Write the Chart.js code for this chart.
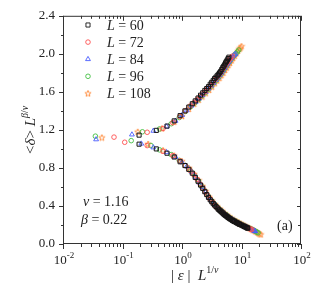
<!DOCTYPE html>
<html lang="en">
<head>
<meta charset="UTF-8">
<title>Scaling collapse</title>
<script src="https://cdn.jsdelivr.net/npm/chart.js"></script>
<style>
  body { margin: 0; background: #fff; }
  #wrap { width: 316px; height: 287px; position: relative; }
</style>
</head>
<body>
<div id="wrap"><canvas id="c"></canvas></div>
<script>
// system sizes and marker colours
const sizes = [60, 72, 84, 96, 108];
const colors = ['#151515', '#ff5050', '#4a5cff', '#44c044', '#ff8a3a'];

// [x, y] points: upper branch and lower branch per L
const upper60 = [[0.19,1.145],[0.37,1.195],[0.56,1.24],[0.74,1.295],[0.93,1.35],[1.12,1.40],[1.3,1.44],[1.49,1.475],[1.67,1.505],[1.86,1.535],[2.05,1.565],[2.23,1.59],[2.42,1.615],[2.6,1.635],[2.79,1.655],[2.98,1.68],[3.16,1.70],[3.35,1.72],[3.53,1.74],[3.72,1.755],[3.91,1.77],[4.09,1.785],[4.28,1.80],[4.46,1.815],[4.65,1.835],[4.84,1.855],[5.02,1.87],[5.21,1.885],[5.39,1.905],[5.58,1.92],[5.77,1.935],[5.95,1.95],[6.14,1.965]];
const lower60 = [[0.19,1.05],[0.37,1.0],[0.56,0.955],[0.74,0.915],[0.93,0.865],[1.12,0.825],[1.3,0.785],[1.49,0.745],[1.67,0.70],[1.86,0.66],[2.05,0.62],[2.23,0.585],[2.42,0.55],[2.6,0.52],[2.79,0.49],[2.98,0.465],[3.16,0.445],[3.35,0.425],[3.53,0.41],[3.72,0.395],[3.91,0.38],[4.09,0.365],[4.28,0.355],[4.46,0.345],[4.65,0.335],[4.84,0.325],[5.02,0.315],[5.21,0.307],[5.39,0.30],[5.58,0.293],[5.77,0.286],[5.95,0.279],[6.14,0.273],[6.35,0.267],[6.6,0.26],[6.9,0.252],[7.1,0.247],[7.3,0.243],[7.5,0.239],[7.7,0.235],[8.1,0.227],[8.35,0.223],[8.6,0.219],[9.0,0.212],[9.25,0.208],[9.5,0.205],[10.0,0.198],[10.5,0.192],[11.0,0.186],[11.3,0.182],[11.6,0.179],[12.2,0.172],[12.5,0.169],[12.8,0.166]];

const upper72 = [[0.072,1.124],[0.26,1.175],[0.48,1.215],[0.70,1.275],[0.92,1.34],[1.14,1.40],[1.36,1.45],[1.58,1.485],[1.8,1.52],[2.02,1.55],[2.24,1.58],[2.46,1.605],[2.7,1.635],[3.0,1.665],[3.3,1.70],[3.6,1.73],[3.9,1.755],[4.2,1.78],[4.5,1.805],[4.8,1.835],[5.1,1.86],[5.4,1.88],[5.7,1.905],[6.0,1.925],[6.3,1.945],[6.6,1.96],[7.0,1.975]];
const lower72 = [[0.109,1.07],[0.26,1.035],[0.48,0.975],[0.70,0.93],[0.92,0.875],[1.14,0.825],[1.36,0.775],[1.58,0.73],[1.8,0.68],[2.02,0.63],[2.24,0.59],[2.46,0.55],[2.7,0.51],[3.0,0.47],[3.3,0.435],[3.6,0.40],[3.9,0.38],[4.2,0.365],[4.5,0.348],[4.8,0.332],[5.2,0.315],[5.6,0.298],[6.0,0.283],[6.5,0.268],[7.0,0.255],[7.6,0.243],[8.2,0.232],[8.8,0.221],[9.4,0.212],[10.0,0.203],[10.6,0.195],[11.2,0.188],[11.8,0.181],[12.4,0.175],[13.0,0.169],[13.6,0.163],[14.2,0.157],[14.8,0.152]];

const upper84 = [[0.144,1.151],[0.33,1.19],[0.55,1.235],[0.78,1.295],[1.0,1.355],[1.2,1.405],[1.45,1.455],[1.7,1.495],[1.95,1.53],[2.2,1.565],[2.5,1.60],[2.8,1.635],[3.1,1.665],[3.4,1.695],[3.7,1.725],[4.0,1.75],[4.3,1.775],[4.6,1.80],[4.9,1.825],[5.2,1.85],[5.5,1.875],[5.8,1.895],[6.1,1.915],[6.4,1.935],[6.8,1.955],[7.2,1.975],[7.6,1.99],[7.9,2.0]];
const lower84 = [[0.036,1.10],[0.207,1.055],[0.33,1.015],[0.55,0.965],[0.78,0.915],[1.0,0.86],[1.2,0.815],[1.45,0.76],[1.7,0.705],[1.95,0.645],[2.2,0.60],[2.5,0.545],[2.8,0.495],[3.1,0.46],[3.4,0.43],[3.7,0.405],[4.0,0.38],[4.4,0.36],[4.8,0.34],[5.2,0.32],[5.6,0.303],[6.0,0.288],[6.5,0.272],[7.0,0.259],[7.6,0.246],[8.2,0.234],[8.9,0.222],[9.6,0.211],[10.3,0.201],[11.0,0.192],[11.8,0.183],[12.6,0.175],[13.4,0.166],[14.2,0.158],[15.0,0.150],[15.8,0.143],[16.6,0.136],[17.0,0.133]];

const upper96 = [[0.035,1.134],[0.216,1.18],[0.42,1.21],[0.66,1.265],[0.9,1.33],[1.15,1.395],[1.4,1.445],[1.65,1.485],[1.9,1.52],[2.15,1.555],[2.45,1.59],[2.75,1.625],[3.1,1.66],[3.45,1.695],[3.8,1.725],[4.15,1.755],[4.5,1.785],[4.85,1.815],[5.2,1.845],[5.55,1.87],[5.9,1.895],[6.3,1.92],[6.7,1.945],[7.1,1.965],[7.5,1.985],[8.0,2.0],[8.5,2.02],[9.0,2.04]];
const lower96 = [[0.14,1.087],[0.30,1.036],[0.42,0.99],[0.66,0.94],[0.9,0.88],[1.15,0.825],[1.4,0.77],[1.65,0.715],[1.9,0.66],[2.15,0.605],[2.45,0.555],[2.75,0.505],[3.1,0.46],[3.45,0.425],[3.8,0.395],[4.2,0.37],[4.6,0.35],[5.0,0.33],[5.5,0.31],[6.0,0.29],[6.6,0.272],[7.2,0.257],[7.9,0.243],[8.6,0.23],[9.4,0.217],[10.2,0.205],[11.0,0.195],[11.9,0.185],[12.8,0.176],[13.7,0.166],[14.6,0.157],[15.5,0.149],[16.4,0.141],[17.3,0.133],[18.2,0.125],[19.0,0.118]];

const upper108 = [[0.045,1.12],[0.18,1.18],[0.46,1.215],[0.74,1.285],[1.0,1.345],[1.3,1.42],[1.6,1.475],[1.9,1.515],[2.2,1.55],[2.5,1.585],[2.85,1.62],[3.2,1.655],[3.55,1.69],[3.9,1.72],[4.25,1.745],[4.6,1.775],[4.95,1.80],[5.3,1.83],[5.65,1.855],[6.0,1.88],[6.4,1.905],[6.8,1.93],[7.2,1.955],[7.7,1.98],[8.2,2.005],[8.7,2.03],[9.2,2.05],[9.6,2.065],[10.0,2.08]];
const lower108 = [[0.27,1.053],[0.48,0.985],[0.74,0.93],[1.0,0.87],[1.3,0.80],[1.6,0.735],[1.9,0.67],[2.2,0.61],[2.5,0.555],[2.85,0.495],[3.2,0.455],[3.55,0.42],[3.9,0.395],[4.3,0.37],[4.7,0.35],[5.2,0.325],[5.7,0.305],[6.2,0.288],[6.8,0.27],[7.5,0.255],[8.2,0.24],[9.0,0.226],[9.8,0.214],[10.6,0.203],[11.5,0.192],[12.4,0.181],[13.3,0.171],[14.2,0.161],[15.1,0.152],[16.0,0.143],[17.0,0.134],[18.0,0.125],[19.0,0.117],[20.0,0.108],[21.0,0.10]];

const uppers = [upper60, upper72, upper84, upper96, upper108];
const lowers = [lower60, lower72, lower84, lower96, lower108];

// axes
const xMajor = [0.01, 0.1, 1, 10, 100];
const xExp = ['-2', '-1', '0', '1', '2'];
const yMajor = [0, 0.4, 0.8, 1.2, 1.6, 2.0, 2.4];
const yMinor = [0.2, 0.6, 1.0, 1.4, 1.8, 2.2];

const SERIF = '"Liberation Serif", "DejaVu Serif", serif';

function makeStar(color) {
    const c = document.createElement('canvas');
    c.width = 8; c.height = 8;
    const g = c.getContext('2d');
    g.beginPath();
    for (let i = 0; i < 10; i++) {
        const r = i % 2 ? 1.4 : 3.3;
        const a = -Math.PI / 2 + i * Math.PI / 5;
        const px = 4 + r * Math.cos(a), py = 4.3 + r * Math.sin(a);
        if (i) g.lineTo(px, py); else g.moveTo(px, py);
    }
    g.closePath();
    g.strokeStyle = color;
    g.lineWidth = 0.9;
    g.stroke();
    return c;
}

const styles = ['rect', 'circle', 'triangle', 'circle', makeStar(colors[4])];
const radii = [2.9, 2.3, 2.8, 2.3, 3.5];
const widths = [1, 0.9, 0.9, 0.9, 0.9];

const datasets = sizes.map((L, i) => ({
    label: 'L = ' + L,
    data: uppers[i].concat(lowers[i]).map(p => ({ x: p[0], y: p[1] })),
    showLine: false,
    pointStyle: styles[i],
    pointRadius: radii[i],
    pointBorderWidth: widths[i],
    borderColor: colors[i],
    backgroundColor: 'rgba(0,0,0,0)'
}));

// draw text made of several runs (italic / superscript), returns width
function runs(ctx, parts, x, y, measureOnly) {
    let w = 0;
    parts.forEach(p => {
        ctx.font = p.font;
        if (!measureOnly) ctx.fillText(p.t, x + w, y + (p.dy || 0));
        w += ctx.measureText(p.t).width;
    });
    return w;
}

const decor = {
    id: 'decor',
    afterDraw(chart) {
        const { ctx, chartArea: a, scales: { x, y } } = chart;
        ctx.save();
        ctx.strokeStyle = '#333';
        ctx.lineWidth = 1;
        ctx.strokeRect(a.left + 0.5, a.top + 0.5, a.right - a.left - 1, a.bottom - a.top - 1);

        ctx.beginPath();
        // x ticks, bottom outward and top inward
        for (let k = 0; k < xMajor.length; k++) {
            const px = Math.round(x.getPixelForValue(xMajor[k])) + 0.5;
            ctx.moveTo(px, a.bottom); ctx.lineTo(px, a.bottom + 5);
            ctx.moveTo(px, a.top); ctx.lineTo(px, a.top + 5);
            if (k < xMajor.length - 1) {
                for (let m = 2; m <= 9; m++) {
                    const q = Math.round(x.getPixelForValue(xMajor[k] * m)) + 0.5;
                    ctx.moveTo(q, a.bottom); ctx.lineTo(q, a.bottom + 3);
                    ctx.moveTo(q, a.top); ctx.lineTo(q, a.top + 3);
                }
            }
        }
        // y ticks, left outward and right inward
        yMajor.forEach(v => {
            const py = Math.round(y.getPixelForValue(v)) + 0.5;
            ctx.moveTo(a.left, py); ctx.lineTo(a.left - 4, py);
            ctx.moveTo(a.right, py); ctx.lineTo(a.right - 4, py);
        });
        yMinor.forEach(v => {
            const py = Math.round(y.getPixelForValue(v)) + 0.5;
            ctx.moveTo(a.left, py); ctx.lineTo(a.left - 2, py);
            ctx.moveTo(a.right, py); ctx.lineTo(a.right - 3, py);
        });
        ctx.stroke();

        ctx.fillStyle = '#222';
        ctx.textBaseline = 'alphabetic';
        ctx.textAlign = 'left';

        // x tick labels 10^n
        xMajor.forEach((v, k) => {
            const parts = [{ t: '10', font: '13px ' + SERIF }, { t: xExp[k], font: '9px ' + SERIF, dy: -6 }];
            const w = runs(ctx, parts, 0, 0, true);
            runs(ctx, parts, x.getPixelForValue(v) - w / 2 + 1, 264);
        });

        // x title
        const it = 'italic 15px ' + SERIF, rg = '15px ' + SERIF;
        runs(ctx, [
            { t: '| ', font: rg }, { t: '\u03b5', font: it }, { t: ' |  ', font: rg },
            { t: 'L', font: it },
            { t: '1/', font: '10px ' + SERIF, dy: -7 }, { t: '\u03bd', font: 'italic 10px ' + SERIF, dy: -7 }
        ], 171, 280);

        // y title (rotated)
        const yParts = [
            { t: '<', font: rg }, { t: '\u03b4', font: it }, { t: '> ', font: rg },
            { t: 'L', font: it },
            { t: '\u03b2', font: 'italic 10px ' + SERIF, dy: -7 }, { t: '/', font: '10px ' + SERIF, dy: -7 },
            { t: '\u03bd', font: 'italic 10px ' + SERIF, dy: -7 }
        ];
        ctx.save();
        ctx.translate(35, (a.top + a.bottom) / 2);
        ctx.rotate(-Math.PI / 2);
        const yw = runs(ctx, yParts, 0, 0, true);
        runs(ctx, yParts, -yw / 2, 0);
        ctx.restore();

        // legend
        chart.data.datasets.forEach((ds, i) => {
            const cy = 25 + 17.1 * i;
            ctx.save();
            ctx.strokeStyle = ds.borderColor;
            ctx.fillStyle = 'rgba(0,0,0,0)';
            ctx.lineWidth = 0.9;
            Chart.helpers.drawPoint(ctx, { pointStyle: ds.pointStyle, radius: ds.pointRadius, rotation: 0, borderWidth: 0.9 }, 88, cy);
            ctx.restore();
            runs(ctx, [{ t: 'L', font: 'italic 14px ' + SERIF }, { t: ' = ' + sizes[i], font: '14px ' + SERIF }], 107, cy + 4.8);
        });

        // exponents
        runs(ctx, [{ t: '\u03bd', font: 'italic 14px ' + SERIF }, { t: ' = 1.16', font: '14px ' + SERIF }], 83, 206);
        runs(ctx, [{ t: '\u03b2', font: 'italic 14px ' + SERIF }, { t: ' = 0.22', font: '14px ' + SERIF }], 81, 224);
        runs(ctx, [{ t: '(a)', font: '14px ' + SERIF }], 277, 230);

        ctx.restore();
    }
};

new Chart(document.getElementById('c'), {
    type: 'scatter',
    data: { datasets: datasets },
    options: {
        responsive: true,
        maintainAspectRatio: false,
        animation: false,
        layout: { padding: { top: 7, right: 15, left: 0, bottom: 0 } },
        plugins: { legend: { display: false }, tooltip: { enabled: false } },
        scales: {
            x: {
                type: 'logarithmic',
                min: 0.01,
                max: 100,
                grid: { display: false, drawTicks: false },
                border: { display: false },
                ticks: { display: false },
                afterFit(s) { s.height = 43; }
            },
            y: {
                min: 0,
                max: 2.4,
                grid: { display: false, drawTicks: false },
                border: { display: false },
                ticks: {
                    stepSize: 0.4,
                    padding: 8,
                    color: '#222',
                    font: { family: SERIF, size: 13 },
                    callback: v => v.toFixed(1)
                },
                afterFit(s) { s.width = 63; }
            }
        }
    },
    plugins: [decor]
});
</script>
</body>
</html>
